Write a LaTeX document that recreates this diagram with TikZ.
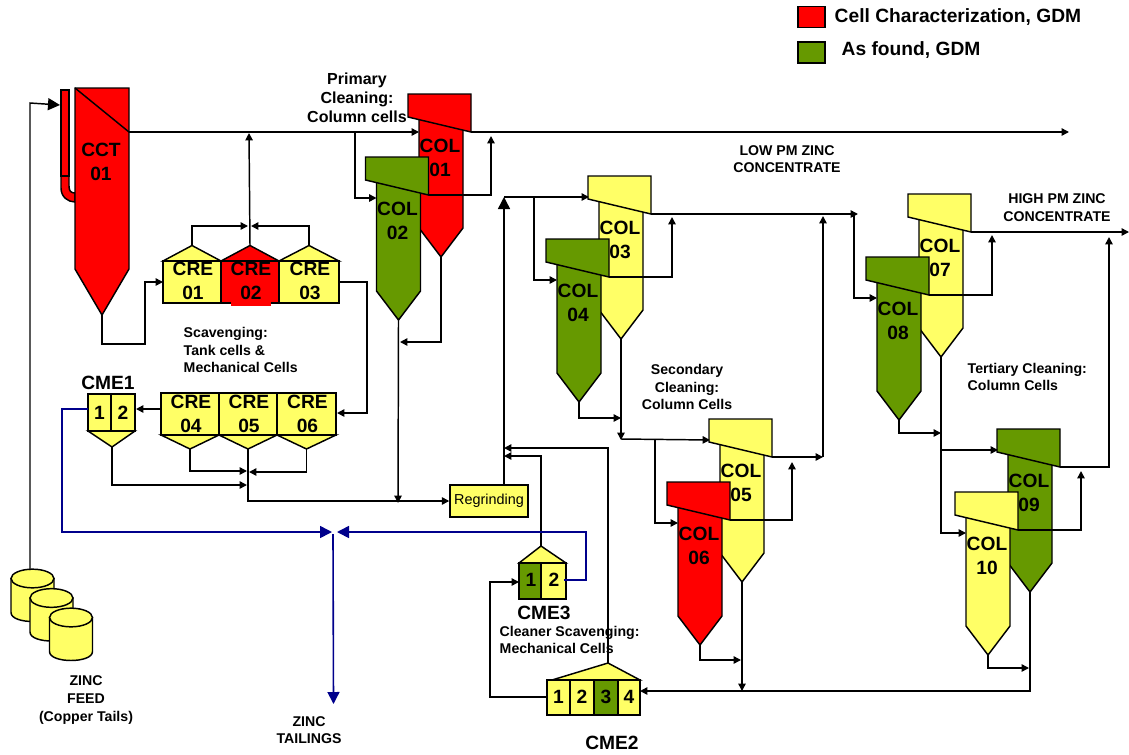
\documentclass[tikz,border=0pt]{standalone}
\usepackage{fontspec}
\setmainfont{Liberation Sans}
\usepackage{xcolor}
\usetikzlibrary{arrows.meta,calc}
\definecolor{cellred}{RGB}{255,0,0}
\definecolor{cellyellow}{RGB}{255,255,102}
\definecolor{cellgreen}{RGB}{102,153,0}
\definecolor{tailblue}{RGB}{0,0,140}
\tikzset{
  celllabel/.style={font=\fontsize{14.4}{18}\selectfont\bfseries,align=center,inner sep=0pt},
  notelabel/.style={font=\fontsize{10.6}{13.2}\selectfont\bfseries,inner sep=0pt},
  bigtip/.style={-{Triangle[length=9pt,width=9pt]}},
  tailline/.style={draw=tailblue,line width=1.2pt},
}
\begin{document}
\begin{tikzpicture}[x=0.75pt,y=-0.75pt,line width=1.1pt,>={Triangle[length=5.5pt,width=5.5pt]}]
\useasboundingbox (0,0) rectangle (1129,754);
% legend
\node[draw,fill=cellred,minimum width=20pt,minimum height=16pt,inner sep=0pt] (keyred) at (811.5,17) {};
\node[draw,fill=cellgreen,minimum width=20pt,minimum height=16pt,inner sep=0pt] (keygreen) at (811.5,52.5) {};
\node[celllabel,anchor=west] (keyredtext) at (834,17) {Cell Characterization, GDM};
\node[celllabel,anchor=west] (keygreentext) at (841,50) {As found, GDM};
% flotation column and its launder
\draw[fill=cellred] (61,176) -- (61,188) .. controls (61,197) and (68,202) .. (75,202) -- (75,193) .. controls (71,193) and (69,191) .. (69,186) -- (69,176) -- cycle;
\draw[fill=cellred] (61,90) rectangle (69,176);
\draw[fill=cellred] (75,88) -- (129,88) -- (129,269) -- (102,315) -- (75,269) -- cycle;
\draw (75,88) -- (129,132);
\node[celllabel] (cct) at (101,161.5) {CCT\\01};
\coordinate (cct-over) at (129,132);
\coordinate (cct-tip) at (102,315);
\coordinate (cct-feed) at (60,105);
% drums
\foreach \id/\x/\y in {1/32.5/578.5,2/51.5/598,3/71/617.5}{
  \draw[fill=cellyellow] (\x-21.5,\y) -- (\x-21.5,\y+34) .. controls (\x-21.5,\y+46) and (\x+21.5,\y+46) .. (\x+21.5,\y+34) -- (\x+21.5,\y) -- cycle;
  \draw[fill=cellyellow] (\x,\y) ellipse [x radius=16.1pt,y radius=7pt];
}
\coordinate (drum-top) at (30,570);
\coordinate (feed-bend) at (30,103);
% tank cells, upper row
\foreach \id/\x/\w/\col in {01/163/58/cellyellow,02/221/58/cellred,03/279/60/cellyellow}{
  \draw[fill=\col] (\x,261) -- (\x+\w/2,245.5) -- (\x+\w,261) -- cycle;
  \draw[fill=\col] (\x,261) rectangle (\x+\w,303);
  \node[celllabel] (cre\id) at (\x+\w/2+1,281) {CRE\\\id};
  \coordinate (cre\id-top) at (\x+\w/2,245.5);
}
\fill[cellred] (231,302.4) rectangle (271,306);
% tank cells, lower row
\foreach \id/\x/\w in {04/161/58,05/219/58,06/277/59}{
  \draw[fill=cellyellow] (\x,435) -- (\x+\w/2,449) -- (\x+\w,435) -- cycle;
  \draw[fill=cellyellow] (\x,393) rectangle (\x+\w,435);
  \node[celllabel] (cre\id) at (\x+\w/2+1,414) {CRE\\\id};
  \coordinate (cre\id-tip) at (\x+\w/2,449);
}
% mechanical cells
\draw[fill=cellyellow] (88,431) -- (112,447) -- (135,431) -- cycle;
\draw[fill=cellyellow] (88,394) rectangle (111,431);
\draw[fill=cellyellow] (111,394) rectangle (135,431);
\node[celllabel] (cme11) at (99.5,413) {1};
\node[celllabel] (cme12) at (123,413) {2};
\node[celllabel] (cme1) at (108,383) {CME1};
\coordinate (cme1-tip) at (112,447);
\draw[fill=cellyellow] (519,563) -- (541,546) -- (566,563) -- cycle;
\draw[fill=cellgreen] (519,563) rectangle (541,599);
\draw[fill=cellyellow] (541,563) rectangle (566,599);
\node[celllabel] (cme31) at (531,580) {1};
\node[celllabel] (cme32) at (554,580) {2};
\node[celllabel] (cme3) at (544,613) {CME3};
\coordinate (cme3-top) at (541,546);
\draw[fill=cellyellow] (552,680) -- (608,663) -- (640,680) -- cycle;
\foreach \n/\x/\w/\col in {1/547/23/cellyellow,2/570/24/cellyellow,3/594/24/cellgreen,4/618/22/cellyellow}{
  \draw[fill=\col] (\x,680) rectangle (\x+\w,715);
  \node[celllabel] (cme2\n) at (\x+\w/2,697) {\n};
}
\node[celllabel] (cme2) at (612,743) {CME2};
\coordinate (cme2-top) at (608,663);
\node[draw,fill=cellyellow,minimum width=58.5pt,minimum height=24pt,inner sep=0pt,font=\fontsize{10.8}{13}\selectfont] (regrind) at (489,501) {Regrinding};
% cleaner columns
\foreach \id/\x/\y/\col in {01/408/94/cellred,02/365.5/157/cellgreen,03/588/176/cellyellow,04/546/239/cellgreen,
  05/709/419/cellyellow,06/667/482/cellred,07/908/194/cellyellow,08/866/257/cellgreen,09/997/429/cellgreen,10/955/492/cellyellow}{
  \draw[fill=\col] (\x+11,\y+20) -- (\x+11,\y+134) -- (\x+33,\y+163) -- (\x+55,\y+134) -- (\x+55,\y+20) -- cycle;
  \draw[fill=\col] (\x,\y) -- (\x+63,\y) -- (\x+63,\y+38) -- (\x,\y+23) -- cycle;
  \node[celllabel] (col\id) at (\x+32,\y+64) {COL\\\id};
  \coordinate (col\id-in) at (\x+11,\y+41);
  \coordinate (col\id-hood) at (\x+1,\y+21);
  \coordinate (col\id-over) at (\x+63,\y+38);
  \coordinate (col\id-tip) at (\x+33,\y+163);
}
% junctions
\coordinate (lowend) at (1069,133);
\coordinate (highend) at (1129,233);
\coordinate (cre-up) at (249,133);
\coordinate (cre-l) at (248,226);
\coordinate (cre-r) at (251,226);
\coordinate (cct-low) at (145,344);
\coordinate (cre01-in) at (163,282);
\coordinate (cre03-out) at (339,282);
\coordinate (cre-jog) at (367,282);
\coordinate (cre06-in) at (337,413);
\coordinate (cre04-out) at (161,409);
\coordinate (cme1-in) at (136,409);
\coordinate (mid-l) at (247,471);
\coordinate (mid-r) at (249,472);
\coordinate (mid-low) at (247,485);
\coordinate (split1) at (355,132);
\coordinate (col01-rise) at (491,136);
\coordinate (col02-back) at (400,342);
\coordinate (grind-mid) at (398,503);
\coordinate (grind-up) at (504,485);
\coordinate (stage2) at (504,197);
\coordinate (split2) at (534,197);
\coordinate (col03-rise) at (672,217);
\coordinate (stage3) at (858,214);
\coordinate (split3) at (854,214);
\coordinate (col05-rise) at (792,462);
\coordinate (sec-join) at (823,457);
\coordinate (sec-rise) at (823,216);
\coordinate (col04-join) at (621,418);
\coordinate (sec-low) at (621,440);
\coordinate (sec-feed) at (621,439);
\coordinate (split4) at (655,439);
\coordinate (col06-join) at (741,660);
\coordinate (col05-end) at (742,691);
\coordinate (cme2-in) at (640,691);
\coordinate (col07-rise) at (992,235);
\coordinate (col09-rise) at (1109,237);
\coordinate (col08-join) at (941,433);
\coordinate (split5) at (941,450);
\coordinate (col09-back) at (1081,471);
\coordinate (col10-join) at (1029,668);
\coordinate (wash1) at (504,448);
\coordinate (wash2) at (504,456);
\coordinate (cme2-out) at (547,697);
\coordinate (cme-loop) at (490,697);
\coordinate (cme3-in) at (519,582);
\coordinate (cme3-out) at (564,580);
\coordinate (cme1-out) at (88,409);
\coordinate (blue-left) at (62,532);
\coordinate (blue-l) at (332,532);
\coordinate (blue-r) at (586,532);
\coordinate (blue-m) at (337,532);
\coordinate (blue-top) at (333,534);
\coordinate (blue-end) at (333.5,704);
% connectors
\draw[bigtip] (drum-top) -- (feed-bend) -- (cct-feed);
\draw[->] (cct-over) -- (cct-over -| col01-in);
\draw[->] (col01-over) -- (col01-over -| lowend);
\draw[->] (cct-tip) |- (cct-low) |- (cre01-in);
\draw[->] (cre02-top) -- (cre-up);
\draw[->] (cre01-top) |- (cre-l);
\draw[->] (cre03-top) |- (cre-r);
\draw[->] (cre03-out) -- (cre-jog) |- (cre06-in);
\draw[->] (cre04-out) -- (cme1-in);
\draw[->] (cre04-tip) |- (mid-l);
\draw[->] (cre06-tip) |- (mid-r);
\draw[->] (cme1-tip) |- (mid-low);
\draw[->] (cre05-tip) |- (regrind.west);
\draw[->] (split1) |- (col02-in);
\draw[->] (col02-over) -| (col01-rise);
\draw[->] (col01-tip) |- (col02-back);
\draw[->] (col02-tip) -- (grind-mid);
\draw[bigtip] (grind-up) -- (stage2);
\draw[->] (stage2) -- (col03-hood);
\draw[->] (split2) |- (col04-in);
\draw[->] (col04-over) -| (col03-rise);
\draw[->] (col03-over) -- (col03-over -| stage3);
\draw[->] (split3) |- (col08-in);
\draw[->] (col04-tip) |- (col04-join);
\draw[->] (col03-tip) -- (sec-low);
\draw[->] (sec-feed) -- (col05-hood);
\draw[->] (split4) |- (col06-in);
\draw[->] (col06-over) -| (col05-rise);
\draw[->] (col05-over) -- (sec-join);
\draw[->] (sec-join) -- (sec-rise);
\draw[->] (col06-tip) |- (col06-join);
\draw[->] (col05-tip) -- (col05-end);
\draw[->] (col08-over) -| (col07-rise);
\draw[->] (col07-over) -- (col07-over -| highend);
\draw[->] (col08-tip) |- (col08-join);
\draw[->] (col07-tip) |- (col10-in);
\draw[->] (split5) -- (split5 -| col09-hood);
\draw[->] (col10-over) -| (col09-back);
\draw[->] (col09-over) -| (col09-rise);
\draw[->] (col10-tip) |- (col10-join);
\draw[->] (col09-tip) |- (cme2-in);
\draw[->] (cme2-out) -- (cme-loop) |- (cme3-in);
\draw[->] (cme2-top) |- (wash1);
\draw[->] (cme3-top) |- (wash2);
\draw[bigtip,tailline] (cme1-out) -| (blue-left) -- (blue-l);
\draw[bigtip,tailline] (cme3-out) -| (blue-r) -- (blue-m);
\draw[bigtip,tailline] (blue-top) -- (blue-end);
% stage names
\node[font=\fontsize{12}{14.2}\selectfont\bfseries,align=center,inner sep=0pt] (primary) at (357,98) {Primary\\Cleaning:\\Column cells};
\node[notelabel,align=left,anchor=west] (scav) at (183,350) {Scavenging:\\Tank cells \&\\Mechanical Cells};
\node[notelabel,align=center] (second) at (687,387) {Secondary\\Cleaning:\\Column Cells};
\node[notelabel,align=left,anchor=west] (third) at (967,377) {Tertiary Cleaning:\\Column Cells};
\node[notelabel,align=left,anchor=west] (cleaner) at (499,640) {Cleaner Scavenging:\\Mechanical Cells};
\node[notelabel,align=center] (lowconc) at (787,159) {LOW PM ZINC\\CONCENTRATE};
\node[notelabel,align=center] (highconc) at (1057,207.5) {HIGH PM ZINC\\CONCENTRATE};
\node[notelabel,align=center] (feed) at (86,700) {ZINC\\FEED\\(Copper Tails)};
\node[notelabel,align=center] (tailings) at (309,730) {ZINC\\TAILINGS};
\end{tikzpicture}
\end{document}
